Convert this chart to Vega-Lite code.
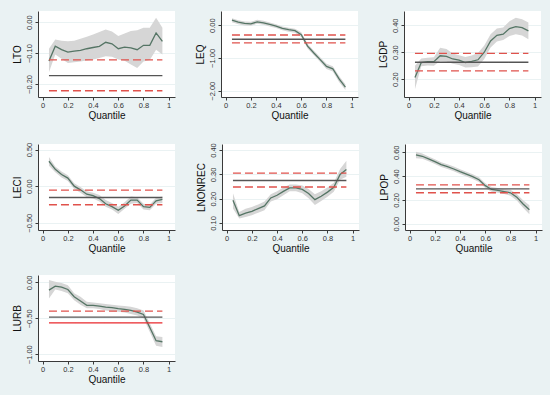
{
"$schema": "https://vega.github.io/schema/vega-lite/v6.json",
"background": "#eaf2f3",
"padding": {"left": 12, "top": 0, "right": 0, "bottom": 0},
"datasets": {
"c": [
{"v":"LTO","q":0.05,"e":-0.126,"lo":-0.162,"hi":-0.086},
{"v":"LTO","q":0.10,"e":-0.078,"lo":-0.105,"hi":-0.056},
{"v":"LTO","q":0.15,"e":-0.089,"lo":-0.118,"hi":-0.060},
{"v":"LTO","q":0.20,"e":-0.097,"lo":-0.132,"hi":-0.062},
{"v":"LTO","q":0.25,"e":-0.094,"lo":-0.130,"hi":-0.060},
{"v":"LTO","q":0.30,"e":-0.091,"lo":-0.127,"hi":-0.054},
{"v":"LTO","q":0.35,"e":-0.086,"lo":-0.124,"hi":-0.047},
{"v":"LTO","q":0.40,"e":-0.082,"lo":-0.121,"hi":-0.040},
{"v":"LTO","q":0.45,"e":-0.078,"lo":-0.116,"hi":-0.032},
{"v":"LTO","q":0.50,"e":-0.065,"lo":-0.110,"hi":-0.024},
{"v":"LTO","q":0.55,"e":-0.070,"lo":-0.112,"hi":-0.030},
{"v":"LTO","q":0.60,"e":-0.086,"lo":-0.121,"hi":-0.045},
{"v":"LTO","q":0.65,"e":-0.081,"lo":-0.125,"hi":-0.037},
{"v":"LTO","q":0.70,"e":-0.083,"lo":-0.137,"hi":-0.029},
{"v":"LTO","q":0.75,"e":-0.089,"lo":-0.148,"hi":-0.026},
{"v":"LTO","q":0.80,"e":-0.075,"lo":-0.127,"hi":-0.018},
{"v":"LTO","q":0.85,"e":-0.075,"lo":-0.122,"hi":-0.018},
{"v":"LTO","q":0.90,"e":-0.035,"lo":-0.089,"hi":0.014},
{"v":"LTO","q":0.95,"e":-0.062,"lo":-0.105,"hi":-0.018},
{"v":"LEQ","q":0.05,"e":0.15,"lo":0.09,"hi":0.21},
{"v":"LEQ","q":0.10,"e":0.09,"lo":0.03,"hi":0.15},
{"v":"LEQ","q":0.15,"e":0.05,"lo":-0.01,"hi":0.11},
{"v":"LEQ","q":0.20,"e":0.04,"lo":-0.02,"hi":0.10},
{"v":"LEQ","q":0.25,"e":0.10,"lo":0.04,"hi":0.16},
{"v":"LEQ","q":0.30,"e":0.07,"lo":0.01,"hi":0.13},
{"v":"LEQ","q":0.35,"e":0.02,"lo":-0.04,"hi":0.08},
{"v":"LEQ","q":0.40,"e":-0.03,"lo":-0.09,"hi":0.03},
{"v":"LEQ","q":0.45,"e":-0.10,"lo":-0.16,"hi":-0.04},
{"v":"LEQ","q":0.50,"e":-0.14,"lo":-0.20,"hi":-0.08},
{"v":"LEQ","q":0.55,"e":-0.17,"lo":-0.23,"hi":-0.11},
{"v":"LEQ","q":0.60,"e":-0.29,"lo":-0.36,"hi":-0.22},
{"v":"LEQ","q":0.65,"e":-0.64,"lo":-0.71,"hi":-0.57},
{"v":"LEQ","q":0.70,"e":-0.85,"lo":-0.92,"hi":-0.78},
{"v":"LEQ","q":0.75,"e":-1.05,"lo":-1.12,"hi":-0.98},
{"v":"LEQ","q":0.80,"e":-1.26,"lo":-1.34,"hi":-1.18},
{"v":"LEQ","q":0.85,"e":-1.33,"lo":-1.41,"hi":-1.25},
{"v":"LEQ","q":0.90,"e":-1.64,"lo":-1.73,"hi":-1.55},
{"v":"LEQ","q":0.95,"e":-1.89,"lo":-1.98,"hi":-1.80},
{"v":"LGDP","q":0.05,"e":0.206,"lo":0.163,"hi":0.250},
{"v":"LGDP","q":0.10,"e":0.262,"lo":0.248,"hi":0.277},
{"v":"LGDP","q":0.15,"e":0.265,"lo":0.251,"hi":0.280},
{"v":"LGDP","q":0.20,"e":0.265,"lo":0.250,"hi":0.281},
{"v":"LGDP","q":0.25,"e":0.287,"lo":0.268,"hi":0.317},
{"v":"LGDP","q":0.30,"e":0.285,"lo":0.266,"hi":0.312},
{"v":"LGDP","q":0.35,"e":0.275,"lo":0.257,"hi":0.295},
{"v":"LGDP","q":0.40,"e":0.271,"lo":0.253,"hi":0.289},
{"v":"LGDP","q":0.45,"e":0.262,"lo":0.243,"hi":0.282},
{"v":"LGDP","q":0.50,"e":0.266,"lo":0.244,"hi":0.288},
{"v":"LGDP","q":0.55,"e":0.272,"lo":0.247,"hi":0.297},
{"v":"LGDP","q":0.60,"e":0.300,"lo":0.275,"hi":0.325},
{"v":"LGDP","q":0.65,"e":0.342,"lo":0.318,"hi":0.367},
{"v":"LGDP","q":0.70,"e":0.363,"lo":0.340,"hi":0.388},
{"v":"LGDP","q":0.75,"e":0.367,"lo":0.345,"hi":0.392},
{"v":"LGDP","q":0.80,"e":0.388,"lo":0.360,"hi":0.415},
{"v":"LGDP","q":0.85,"e":0.395,"lo":0.367,"hi":0.428},
{"v":"LGDP","q":0.90,"e":0.391,"lo":0.362,"hi":0.422},
{"v":"LGDP","q":0.95,"e":0.379,"lo":0.348,"hi":0.410},
{"v":"LECI","q":0.05,"e":0.34,"lo":0.28,"hi":0.40},
{"v":"LECI","q":0.10,"e":0.23,"lo":0.19,"hi":0.27},
{"v":"LECI","q":0.15,"e":0.16,"lo":0.12,"hi":0.20},
{"v":"LECI","q":0.20,"e":0.11,"lo":0.07,"hi":0.15},
{"v":"LECI","q":0.25,"e":0.00,"lo":-0.04,"hi":0.04},
{"v":"LECI","q":0.30,"e":-0.05,"lo":-0.09,"hi":-0.01},
{"v":"LECI","q":0.35,"e":-0.11,"lo":-0.15,"hi":-0.07},
{"v":"LECI","q":0.40,"e":-0.13,"lo":-0.17,"hi":-0.09},
{"v":"LECI","q":0.45,"e":-0.17,"lo":-0.21,"hi":-0.12},
{"v":"LECI","q":0.50,"e":-0.24,"lo":-0.28,"hi":-0.19},
{"v":"LECI","q":0.55,"e":-0.28,"lo":-0.32,"hi":-0.23},
{"v":"LECI","q":0.60,"e":-0.33,"lo":-0.38,"hi":-0.28},
{"v":"LECI","q":0.65,"e":-0.27,"lo":-0.31,"hi":-0.22},
{"v":"LECI","q":0.70,"e":-0.19,"lo":-0.24,"hi":-0.14},
{"v":"LECI","q":0.75,"e":-0.19,"lo":-0.23,"hi":-0.15},
{"v":"LECI","q":0.80,"e":-0.28,"lo":-0.32,"hi":-0.24},
{"v":"LECI","q":0.85,"e":-0.29,"lo":-0.33,"hi":-0.25},
{"v":"LECI","q":0.90,"e":-0.20,"lo":-0.24,"hi":-0.16},
{"v":"LECI","q":0.95,"e":-0.18,"lo":-0.23,"hi":-0.14},
{"v":"LNONREC","q":0.05,"e":0.193,"lo":0.160,"hi":0.222},
{"v":"LNONREC","q":0.10,"e":0.130,"lo":0.118,"hi":0.145},
{"v":"LNONREC","q":0.15,"e":0.140,"lo":0.125,"hi":0.158},
{"v":"LNONREC","q":0.20,"e":0.148,"lo":0.132,"hi":0.166},
{"v":"LNONREC","q":0.25,"e":0.159,"lo":0.142,"hi":0.176},
{"v":"LNONREC","q":0.30,"e":0.170,"lo":0.152,"hi":0.188},
{"v":"LNONREC","q":0.35,"e":0.203,"lo":0.188,"hi":0.218},
{"v":"LNONREC","q":0.40,"e":0.214,"lo":0.198,"hi":0.230},
{"v":"LNONREC","q":0.45,"e":0.230,"lo":0.214,"hi":0.246},
{"v":"LNONREC","q":0.50,"e":0.244,"lo":0.230,"hi":0.258},
{"v":"LNONREC","q":0.55,"e":0.244,"lo":0.230,"hi":0.258},
{"v":"LNONREC","q":0.60,"e":0.238,"lo":0.222,"hi":0.254},
{"v":"LNONREC","q":0.65,"e":0.221,"lo":0.202,"hi":0.240},
{"v":"LNONREC","q":0.70,"e":0.196,"lo":0.174,"hi":0.218},
{"v":"LNONREC","q":0.75,"e":0.210,"lo":0.190,"hi":0.230},
{"v":"LNONREC","q":0.80,"e":0.227,"lo":0.208,"hi":0.246},
{"v":"LNONREC","q":0.85,"e":0.247,"lo":0.228,"hi":0.266},
{"v":"LNONREC","q":0.90,"e":0.300,"lo":0.278,"hi":0.322},
{"v":"LNONREC","q":0.95,"e":0.320,"lo":0.290,"hi":0.356},
{"v":"LPOP","q":0.05,"e":0.578,"lo":0.550,"hi":0.605},
{"v":"LPOP","q":0.10,"e":0.567,"lo":0.545,"hi":0.590},
{"v":"LPOP","q":0.15,"e":0.545,"lo":0.525,"hi":0.565},
{"v":"LPOP","q":0.20,"e":0.522,"lo":0.502,"hi":0.542},
{"v":"LPOP","q":0.25,"e":0.497,"lo":0.477,"hi":0.517},
{"v":"LPOP","q":0.30,"e":0.480,"lo":0.460,"hi":0.500},
{"v":"LPOP","q":0.35,"e":0.460,"lo":0.440,"hi":0.480},
{"v":"LPOP","q":0.40,"e":0.437,"lo":0.417,"hi":0.457},
{"v":"LPOP","q":0.45,"e":0.417,"lo":0.397,"hi":0.437},
{"v":"LPOP","q":0.50,"e":0.395,"lo":0.375,"hi":0.415},
{"v":"LPOP","q":0.55,"e":0.370,"lo":0.350,"hi":0.390},
{"v":"LPOP","q":0.60,"e":0.320,"lo":0.300,"hi":0.340},
{"v":"LPOP","q":0.65,"e":0.288,"lo":0.268,"hi":0.308},
{"v":"LPOP","q":0.70,"e":0.280,"lo":0.260,"hi":0.300},
{"v":"LPOP","q":0.75,"e":0.270,"lo":0.250,"hi":0.290},
{"v":"LPOP","q":0.80,"e":0.260,"lo":0.235,"hi":0.285},
{"v":"LPOP","q":0.85,"e":0.223,"lo":0.195,"hi":0.250},
{"v":"LPOP","q":0.90,"e":0.166,"lo":0.135,"hi":0.197},
{"v":"LPOP","q":0.95,"e":0.117,"lo":0.080,"hi":0.155},
{"v":"LURB","q":0.05,"e":-0.108,"lo":-0.225,"hi":0.033},
{"v":"LURB","q":0.10,"e":-0.052,"lo":-0.100,"hi":0.010},
{"v":"LURB","q":0.15,"e":-0.066,"lo":-0.120,"hi":-0.010},
{"v":"LURB","q":0.20,"e":-0.099,"lo":-0.150,"hi":-0.040},
{"v":"LURB","q":0.25,"e":-0.200,"lo":-0.250,"hi":-0.150},
{"v":"LURB","q":0.30,"e":-0.258,"lo":-0.310,"hi":-0.200},
{"v":"LURB","q":0.35,"e":-0.319,"lo":-0.360,"hi":-0.270},
{"v":"LURB","q":0.40,"e":-0.319,"lo":-0.360,"hi":-0.280},
{"v":"LURB","q":0.45,"e":-0.329,"lo":-0.370,"hi":-0.290},
{"v":"LURB","q":0.50,"e":-0.343,"lo":-0.390,"hi":-0.300},
{"v":"LURB","q":0.55,"e":-0.352,"lo":-0.400,"hi":-0.310},
{"v":"LURB","q":0.60,"e":-0.366,"lo":-0.410,"hi":-0.320},
{"v":"LURB","q":0.65,"e":-0.376,"lo":-0.420,"hi":-0.330},
{"v":"LURB","q":0.70,"e":-0.390,"lo":-0.440,"hi":-0.340},
{"v":"LURB","q":0.75,"e":-0.413,"lo":-0.460,"hi":-0.360},
{"v":"LURB","q":0.80,"e":-0.446,"lo":-0.500,"hi":-0.390},
{"v":"LURB","q":0.85,"e":-0.627,"lo":-0.690,"hi":-0.570},
{"v":"LURB","q":0.90,"e":-0.812,"lo":-0.880,"hi":-0.750},
{"v":"LURB","q":0.95,"e":-0.826,"lo":-0.900,"hi":-0.760}
],
"r": [
{"v":"LTO","t":"ci","val":-0.122},{"v":"LTO","t":"ols","val":-0.173},{"v":"LTO","t":"ci","val":-0.222},
{"v":"LEQ","t":"ci","val":-0.30},{"v":"LEQ","t":"ols","val":-0.43},{"v":"LEQ","t":"ci","val":-0.54},
{"v":"LGDP","t":"ci","val":0.296},{"v":"LGDP","t":"ols","val":0.263},{"v":"LGDP","t":"ci","val":0.231},
{"v":"LECI","t":"ci","val":-0.054},{"v":"LECI","t":"ols","val":-0.154},{"v":"LECI","t":"ci","val":-0.253},
{"v":"LNONREC","t":"ci","val":0.305},{"v":"LNONREC","t":"ols","val":0.275},{"v":"LNONREC","t":"ci","val":0.248},
{"v":"LPOP","t":"ci","val":0.326},{"v":"LPOP","t":"ols","val":0.293},{"v":"LPOP","t":"ci","val":0.260},
{"v":"LURB","t":"ci","val":-0.400},{"v":"LURB","t":"ols","val":-0.484},{"v":"LURB","t":"ci2","val":-0.563}
]
},
"spacing": 10,
"vconcat": [
{"spacing": 20, "hconcat": [
{"width":137,"height":86,"title":{"text":" ","fontSize":7,"offset":4},"layer":[
{"data":{"name":"c"},"transform":[{"filter":"datum.v === 'LTO'"}],"mark":{"type":"area","color":"#d6d6d6"},"encoding":{"x":{"field":"q","type":"quantitative","scale":{"domain":[-0.037,1.05],"nice":false,"zero":false},"axis":{"values":[0,0.2,0.4,0.6,0.8,1],"format":"~g","title":"Quantile","labelOverlap":false,"labelSeparation":-50}},"y":{"field":"lo","type":"quantitative","scale":{"domain":[-0.242,0.036],"nice":false,"zero":false},"axis":{"values":[0,-0.1,-0.2],"title":"LTO","labelOverlap":false,"labelSeparation":-50}},"y2":{"field":"hi"}}},
{"data":{"name":"c"},"transform":[{"filter":"datum.v === 'LTO'"}],"mark":{"type":"line","color":"#557565","strokeWidth":1.3},"encoding":{"x":{"field":"q","type":"quantitative","axis":{"values":[0,0.2,0.4,0.6,0.8,1],"format":"~g","title":"Quantile","labelOverlap":false,"labelSeparation":-50}},"y":{"field":"e","type":"quantitative","axis":{"values":[0,-0.1,-0.2],"title":"LTO","labelOverlap":false,"labelSeparation":-50}}}},
{"data":{"name":"r"},"transform":[{"filter":"datum.v === 'LTO'"}],"mark":{"type":"rule","strokeWidth":1.4},"encoding":{"x":{"datum":0.05,"type":"quantitative","axis":{"values":[0,0.2,0.4,0.6,0.8,1],"format":"~g","title":"Quantile","labelOverlap":false,"labelSeparation":-50}},"x2":{"datum":0.95},"y":{"field":"val","type":"quantitative","axis":{"values":[0,-0.1,-0.2],"title":"LTO","labelOverlap":false,"labelSeparation":-50}},"color":{"field":"t","type":"nominal","scale":{"domain":["ols","ci","ci2"],"range":["#555555","#e0524c","#e8262b"]},"legend":null},"strokeDash":{"field":"t","type":"nominal","scale":{"domain":["ols","ci","ci2"],"range":[[1,0],[8,4],[1,0]]},"legend":null}}}
]},
{"width":137,"height":86,"title":{"text":" ","fontSize":7,"offset":4},"layer":[
{"data":{"name":"c"},"transform":[{"filter":"datum.v === 'LEQ'"}],"mark":{"type":"area","color":"#d6d6d6"},"encoding":{"x":{"field":"q","type":"quantitative","scale":{"domain":[-0.037,1.05],"nice":false,"zero":false},"axis":{"values":[0,0.2,0.4,0.6,0.8,1],"format":"~g","title":"Quantile","labelOverlap":false,"labelSeparation":-50}},"y":{"field":"lo","type":"quantitative","scale":{"domain":[-2.19,0.43],"nice":false,"zero":false},"axis":{"values":[0,-1,-2],"title":"LEQ","labelOverlap":false,"labelSeparation":-50}},"y2":{"field":"hi"}}},
{"data":{"name":"c"},"transform":[{"filter":"datum.v === 'LEQ'"}],"mark":{"type":"line","color":"#557565","strokeWidth":1.3},"encoding":{"x":{"field":"q","type":"quantitative","axis":{"values":[0,0.2,0.4,0.6,0.8,1],"format":"~g","title":"Quantile","labelOverlap":false,"labelSeparation":-50}},"y":{"field":"e","type":"quantitative","axis":{"values":[0,-1,-2],"title":"LEQ","labelOverlap":false,"labelSeparation":-50}}}},
{"data":{"name":"r"},"transform":[{"filter":"datum.v === 'LEQ'"}],"mark":{"type":"rule","strokeWidth":1.4},"encoding":{"x":{"datum":0.05,"type":"quantitative","axis":{"values":[0,0.2,0.4,0.6,0.8,1],"format":"~g","title":"Quantile","labelOverlap":false,"labelSeparation":-50}},"x2":{"datum":0.95},"y":{"field":"val","type":"quantitative","axis":{"values":[0,-1,-2],"title":"LEQ","labelOverlap":false,"labelSeparation":-50}},"color":{"field":"t","type":"nominal","scale":{"domain":["ols","ci","ci2"],"range":["#555555","#e0524c","#e8262b"]},"legend":null},"strokeDash":{"field":"t","type":"nominal","scale":{"domain":["ols","ci","ci2"],"range":[[1,0],[8,4],[1,0]]},"legend":null}}}
]},
{"width":137,"height":86,"title":{"text":" ","fontSize":7,"offset":4},"layer":[
{"data":{"name":"c"},"transform":[{"filter":"datum.v === 'LGDP'"}],"mark":{"type":"area","color":"#d6d6d6"},"encoding":{"x":{"field":"q","type":"quantitative","scale":{"domain":[-0.037,1.05],"nice":false,"zero":false},"axis":{"values":[0,0.2,0.4,0.6,0.8,1],"format":"~g","title":"Quantile","labelOverlap":false,"labelSeparation":-50}},"y":{"field":"lo","type":"quantitative","scale":{"domain":[0.134,0.453],"nice":false,"zero":false},"axis":{"values":[0.2,0.3,0.4],"title":"LGDP","labelOverlap":false,"labelSeparation":-50}},"y2":{"field":"hi"}}},
{"data":{"name":"c"},"transform":[{"filter":"datum.v === 'LGDP'"}],"mark":{"type":"line","color":"#557565","strokeWidth":1.3},"encoding":{"x":{"field":"q","type":"quantitative","axis":{"values":[0,0.2,0.4,0.6,0.8,1],"format":"~g","title":"Quantile","labelOverlap":false,"labelSeparation":-50}},"y":{"field":"e","type":"quantitative","axis":{"values":[0.2,0.3,0.4],"title":"LGDP","labelOverlap":false,"labelSeparation":-50}}}},
{"data":{"name":"r"},"transform":[{"filter":"datum.v === 'LGDP'"}],"mark":{"type":"rule","strokeWidth":1.4},"encoding":{"x":{"datum":0.05,"type":"quantitative","axis":{"values":[0,0.2,0.4,0.6,0.8,1],"format":"~g","title":"Quantile","labelOverlap":false,"labelSeparation":-50}},"x2":{"datum":0.95},"y":{"field":"val","type":"quantitative","axis":{"values":[0.2,0.3,0.4],"title":"LGDP","labelOverlap":false,"labelSeparation":-50}},"color":{"field":"t","type":"nominal","scale":{"domain":["ols","ci","ci2"],"range":["#555555","#e0524c","#e8262b"]},"legend":null},"strokeDash":{"field":"t","type":"nominal","scale":{"domain":["ols","ci","ci2"],"range":[[1,0],[8,4],[1,0]]},"legend":null}}}
]}
]},
{"spacing": 20, "hconcat": [
{"width":137,"height":86,"title":{"text":" ","fontSize":7,"offset":4},"layer":[
{"data":{"name":"c"},"transform":[{"filter":"datum.v === 'LECI'"}],"mark":{"type":"area","color":"#d6d6d6"},"encoding":{"x":{"field":"q","type":"quantitative","scale":{"domain":[-0.037,1.05],"nice":false,"zero":false},"axis":{"tickCount":6,"format":"~g","title":"Quantile","labelOverlap":false,"labelSeparation":-50}},"y":{"field":"lo","type":"quantitative","scale":{"domain":[-0.599,0.576],"nice":false,"zero":false},"axis":{"values":[0.5,0,-0.5],"title":"LECI","labelOverlap":false,"labelSeparation":-50}},"y2":{"field":"hi"}}},
{"data":{"name":"c"},"transform":[{"filter":"datum.v === 'LECI'"}],"mark":{"type":"line","color":"#557565","strokeWidth":1.3},"encoding":{"x":{"field":"q","type":"quantitative","axis":{"tickCount":6,"format":"~g","title":"Quantile","labelOverlap":false,"labelSeparation":-50}},"y":{"field":"e","type":"quantitative","axis":{"values":[0.5,0,-0.5],"title":"LECI","labelOverlap":false,"labelSeparation":-50}}}},
{"data":{"name":"r"},"transform":[{"filter":"datum.v === 'LECI'"}],"mark":{"type":"rule","strokeWidth":1.4},"encoding":{"x":{"datum":0.05,"type":"quantitative","axis":{"tickCount":6,"format":"~g","title":"Quantile","labelOverlap":false,"labelSeparation":-50}},"x2":{"datum":0.95},"y":{"field":"val","type":"quantitative","axis":{"values":[0.5,0,-0.5],"title":"LECI","labelOverlap":false,"labelSeparation":-50}},"color":{"field":"t","type":"nominal","scale":{"domain":["ols","ci","ci2"],"range":["#555555","#e0524c","#e8262b"]},"legend":null},"strokeDash":{"field":"t","type":"nominal","scale":{"domain":["ols","ci","ci2"],"range":[[1,0],[8,4],[1,0]]},"legend":null}}}
]},
{"width":137,"height":86,"title":{"text":" ","fontSize":7,"offset":4},"layer":[
{"data":{"name":"c"},"transform":[{"filter":"datum.v === 'LNONREC'"}],"mark":{"type":"area","color":"#d6d6d6"},"encoding":{"x":{"field":"q","type":"quantitative","scale":{"domain":[-0.037,1.05],"nice":false,"zero":false},"axis":{"tickCount":6,"format":"~g","title":"Quantile","labelOverlap":false,"labelSeparation":-50}},"y":{"field":"lo","type":"quantitative","scale":{"domain":[0.071,0.425],"nice":false,"zero":false},"axis":{"values":[0.1,0.2,0.3,0.4],"title":"LNONREC","labelOverlap":false,"labelSeparation":-50}},"y2":{"field":"hi"}}},
{"data":{"name":"c"},"transform":[{"filter":"datum.v === 'LNONREC'"}],"mark":{"type":"line","color":"#557565","strokeWidth":1.3},"encoding":{"x":{"field":"q","type":"quantitative","axis":{"tickCount":6,"format":"~g","title":"Quantile","labelOverlap":false,"labelSeparation":-50}},"y":{"field":"e","type":"quantitative","axis":{"values":[0.1,0.2,0.3,0.4],"title":"LNONREC","labelOverlap":false,"labelSeparation":-50}}}},
{"data":{"name":"r"},"transform":[{"filter":"datum.v === 'LNONREC'"}],"mark":{"type":"rule","strokeWidth":1.4},"encoding":{"x":{"datum":0.05,"type":"quantitative","axis":{"tickCount":6,"format":"~g","title":"Quantile","labelOverlap":false,"labelSeparation":-50}},"x2":{"datum":0.95},"y":{"field":"val","type":"quantitative","axis":{"values":[0.1,0.2,0.3,0.4],"title":"LNONREC","labelOverlap":false,"labelSeparation":-50}},"color":{"field":"t","type":"nominal","scale":{"domain":["ols","ci","ci2"],"range":["#555555","#e0524c","#e8262b"]},"legend":null},"strokeDash":{"field":"t","type":"nominal","scale":{"domain":["ols","ci","ci2"],"range":[[1,0],[8,4],[1,0]]},"legend":null}}}
]},
{"width":137,"height":86,"title":{"text":" ","fontSize":7,"offset":4},"layer":[
{"data":{"name":"c"},"transform":[{"filter":"datum.v === 'LPOP'"}],"mark":{"type":"area","color":"#d6d6d6"},"encoding":{"x":{"field":"q","type":"quantitative","scale":{"domain":[-0.037,1.05],"nice":false,"zero":false},"axis":{"tickCount":6,"format":"~g","title":"Quantile","labelOverlap":false,"labelSeparation":-50}},"y":{"field":"lo","type":"quantitative","scale":{"domain":[-0.053,0.67],"nice":false,"zero":false},"axis":{"values":[0,0.2,0.4,0.6],"title":"LPOP","labelOverlap":false,"labelSeparation":-50}},"y2":{"field":"hi"}}},
{"data":{"name":"c"},"transform":[{"filter":"datum.v === 'LPOP'"}],"mark":{"type":"line","color":"#557565","strokeWidth":1.3},"encoding":{"x":{"field":"q","type":"quantitative","axis":{"tickCount":6,"format":"~g","title":"Quantile","labelOverlap":false,"labelSeparation":-50}},"y":{"field":"e","type":"quantitative","axis":{"values":[0,0.2,0.4,0.6],"title":"LPOP","labelOverlap":false,"labelSeparation":-50}}}},
{"data":{"name":"r"},"transform":[{"filter":"datum.v === 'LPOP'"}],"mark":{"type":"rule","strokeWidth":1.4},"encoding":{"x":{"datum":0.05,"type":"quantitative","axis":{"tickCount":6,"format":"~g","title":"Quantile","labelOverlap":false,"labelSeparation":-50}},"x2":{"datum":0.95},"y":{"field":"val","type":"quantitative","axis":{"values":[0,0.2,0.4,0.6],"title":"LPOP","labelOverlap":false,"labelSeparation":-50}},"color":{"field":"t","type":"nominal","scale":{"domain":["ols","ci","ci2"],"range":["#555555","#e0524c","#e8262b"]},"legend":null},"strokeDash":{"field":"t","type":"nominal","scale":{"domain":["ols","ci","ci2"],"range":[[1,0],[8,4],[1,0]]},"legend":null}}}
]}
]},
{"spacing": 8, "hconcat": [
{"width":137,"height":86,"title":{"text":" ","fontSize":7,"offset":4},"layer":[
{"data":{"name":"c"},"transform":[{"filter":"datum.v === 'LURB'"}],"mark":{"type":"area","color":"#d6d6d6"},"encoding":{"x":{"field":"q","type":"quantitative","scale":{"domain":[-0.037,1.05],"nice":false,"zero":false},"axis":{"values":[0,0.2,0.4,0.6,0.8,1],"format":"~g","title":"Quantile","labelOverlap":false,"labelSeparation":-50}},"y":{"field":"lo","type":"quantitative","scale":{"domain":[-1.094,0.103],"nice":false,"zero":false},"axis":{"values":[0,-0.5,-1],"title":"LURB","labelOverlap":false,"labelSeparation":-50}},"y2":{"field":"hi"}}},
{"data":{"name":"c"},"transform":[{"filter":"datum.v === 'LURB'"}],"mark":{"type":"line","color":"#557565","strokeWidth":1.3},"encoding":{"x":{"field":"q","type":"quantitative","axis":{"values":[0,0.2,0.4,0.6,0.8,1],"format":"~g","title":"Quantile","labelOverlap":false,"labelSeparation":-50}},"y":{"field":"e","type":"quantitative","axis":{"values":[0,-0.5,-1],"title":"LURB","labelOverlap":false,"labelSeparation":-50}}}},
{"data":{"name":"r"},"transform":[{"filter":"datum.v === 'LURB'"}],"mark":{"type":"rule","strokeWidth":1.4},"encoding":{"x":{"datum":0.05,"type":"quantitative","axis":{"values":[0,0.2,0.4,0.6,0.8,1],"format":"~g","title":"Quantile","labelOverlap":false,"labelSeparation":-50}},"x2":{"datum":0.95},"y":{"field":"val","type":"quantitative","axis":{"values":[0,-0.5,-1],"title":"LURB","labelOverlap":false,"labelSeparation":-50}},"color":{"field":"t","type":"nominal","scale":{"domain":["ols","ci","ci2"],"range":["#555555","#e0524c","#e8262b"]},"legend":null},"strokeDash":{"field":"t","type":"nominal","scale":{"domain":["ols","ci","ci2"],"range":[[1,0],[8,4],[1,0]]},"legend":null}}}
]},
{"width":367,"height":133,"data":{"values":[]},"mark":"point","encoding":{}}
]}
],
"config": {
"font": "Liberation Sans",
"view": {"fill": "white", "stroke": null},
"title": {"color": "#000000"},
"axis": {"domainColor": "#3a3a3a", "tickColor": "#3a3a3a", "labelColor": "#333333", "titleColor": "#111111", "titleFontWeight": "normal", "titleFont": "Liberation Sans", "labelFont": "Liberation Sans", "tickSize": 3, "labelFontSize": 7.5, "titleFontSize": 10, "labelFlush": false, "labelOverlap": false},
"axisX": {"grid": false, "labelPadding": 1, "titlePadding": 2, "labelOverlap": false},
"axisY": {"grid": true, "gridColor": "#eaf2f3", "labelAngle": 270, "format": ".2f", "labelPadding": 2, "titlePadding": 3}
}
}
